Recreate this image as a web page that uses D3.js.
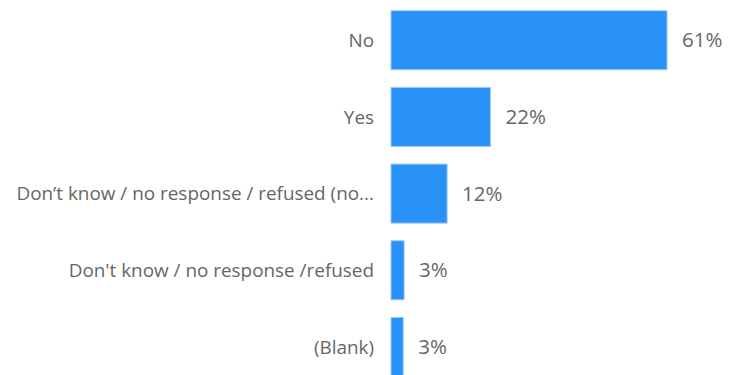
<html>
<head>
<meta charset="utf-8">
<script src="https://cdnjs.cloudflare.com/ajax/libs/d3/7.8.5/d3.min.js"></script>
<style>
  body { margin: 0; background: #fff; }
  text { font-family: "Open Sans", "Noto Sans", sans-serif; fill: #666; }
</style>
</head>
<body>
<div id="chart"></div>
<script>
  var categories = ["No", "Yes", "Don’t know / no response / refused (no...", "Don't know / no response /refused", "(Blank)"];
  var values = [0.61, 0.22, 0.124, 0.029, 0.027];

  var width = 731, height = 375;
  var left = 391;

  var svg = d3.select("#chart").append("svg")
    .attr("width", width)
    .attr("height", height);

  var x = d3.scaleLinear().domain([0, 0.61]).range([left, 667]);
  var y = d3.scaleBand().domain(categories).range([10.7, 376.5]).paddingInner(0.23).paddingOuter(0);

  var fmt = d3.format(".0%");

  var rows = svg.selectAll("g.row")
    .data(categories)
    .enter().append("g")
    .attr("class", "row");

  rows.append("rect")
    .attr("x", x(0))
    .attr("y", function(d) { return y(d); })
    .attr("width", function(d, i) { return x(values[i]) - x(0); })
    .attr("height", y.bandwidth())
    .attr("fill", "#2a91f7")
    .attr("stroke", "#9ccbfb")
    .attr("stroke-width", 1);

  rows.append("text")
    .attr("x", left - 17)
    .attr("y", function(d) { return y(d) + y.bandwidth() / 2; })
    .attr("dy", "0.35em")
    .attr("text-anchor", "end")
    .style("font-size", "18.9px")
    .text(function(d) { return d; });

  rows.append("text")
    .attr("x", function(d, i) { return x(values[i]) + 15; })
    .attr("y", function(d) { return y(d) + y.bandwidth() / 2; })
    .attr("dy", "0.35em")
    .style("font-size", "20.5px")
    .text(function(d, i) { return fmt(values[i]); });
</script>
</body>
</html>
